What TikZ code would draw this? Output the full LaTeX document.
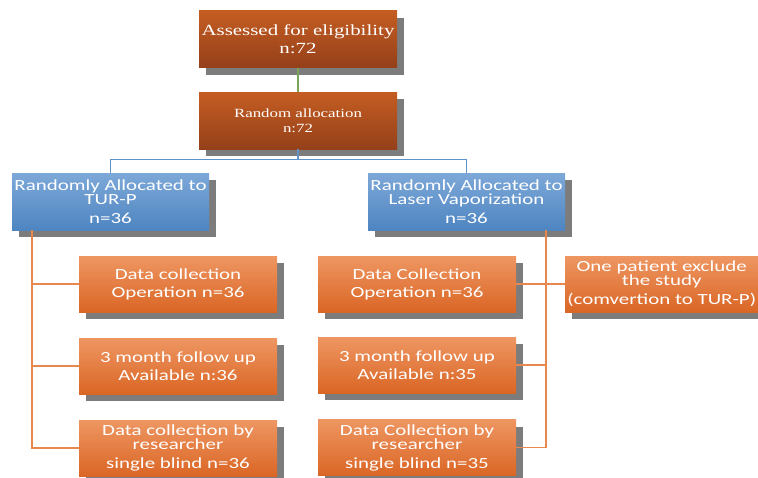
\documentclass[tikz,border=0pt]{standalone}
\usepackage{fontspec}
\setmainfont{Liberation Serif}[FakeStretch=1.35]
\newfontfamily\calib{Carlito}[FakeStretch=1.35]
\usetikzlibrary{shadows}

\definecolor{browntop}{HTML}{C55D22}
\definecolor{brownbot}{HTML}{94401A}
\definecolor{bluetop}{HTML}{7DA8D8}
\definecolor{bluebot}{HTML}{4E85C1}
\definecolor{orangetop}{HTML}{EE9662}
\definecolor{orangebot}{HTML}{DA6625}
\definecolor{blueline}{HTML}{5E92C9}
\definecolor{orangeline}{HTML}{E8884E}
\definecolor{greenline}{HTML}{7BA556}

\tikzset{
	box/.style={rectangle, text=white, align=center, inner sep=1pt,
		drop shadow={shadow xshift=7pt, shadow yshift=-7pt, fill=black!60, opacity=0.85}},
	topbox/.style={box, top color=browntop, bottom color=brownbot,
		minimum width=198pt, minimum height=57pt},
	armbox/.style={box, top color=bluetop, bottom color=bluebot, font=\calib\fontsize{15.5}{14}\selectfont,
		minimum width=197pt, minimum height=57pt},
	stepbox/.style={box, top color=orangetop, bottom color=orangebot, font=\calib\fontsize{15.5}{14}\selectfont,
		minimum width=198pt, minimum height=56pt},
	link/.style={line width=1.3pt}
}

\begin{document}
\begin{tikzpicture}[x=1pt, y=-1pt]
	\clip (0,0) rectangle (758,477);
	\fill[white] (0,0) rectangle (758,477);

	\node[topbox, font=\fontsize{15.5}{18}\selectfont] (assess) at (298,39) {Assessed for eligibility\\n:72};
	\node[topbox, font=\fontsize{12.5}{15}\selectfont] (random) at (298,120.5) {Random allocation\\n:72};

	\node[armbox] (tur) at (110.5,201.5) {Randomly Allocated to\\TUR-P\\[5pt]n=36};
	\node[armbox] (laser) at (466.5,201.5) {Randomly Allocated to\\Laser Vaporization\\[5pt]n=36};

	\node[stepbox] (tA) at (178,284) {Data collection\\[4pt]Operation n=36};
	\node[stepbox] (tB) at (178,366) {3 month follow up\\[4pt]Available n:36};
	\node[stepbox] (tC) at (178,448) {Data collection by\\researcher\\[5pt]single blind n=36};

	\node[stepbox] (lA) at (417,284) {Data Collection\\[4pt]Operation n=36};
	\node[stepbox] (lB) at (417,365) {3 month follow up\\[4pt]Available n:35};
	\node[stepbox] (lC) at (417,447.5) {Data Collection by\\researcher\\[5pt]single blind n=35};

	\node[stepbox, minimum width=193pt, anchor=west] (excl) at (565,284) {One patient exclude\\the study\\[5pt](comvertion to TUR-P)};

	\coordinate (tl) at (32,230);
	\coordinate (tr) at (546,230);

	\draw[link, greenline] (assess) -- (random);
	\draw[link, blueline] (random.south) -- ++(0,10.5) -| (tur.north);
	\draw[link, blueline] (random.south) -- ++(0,10.5) -| (laser.north);

	\draw[link, orangeline] (tl) |- (tA.west);
	\draw[link, orangeline] (tl) |- (tB.west);
	\draw[link, orangeline] (tl) |- (tC.west);
	\draw[link, orangeline] (tr) |- (lA.east);
	\draw[link, orangeline] (tr) |- (lB.east);
	\draw[link, orangeline] (tr) |- (lC.east);
	\draw[link, orangeline] (lA.east) -- (excl.west);
\end{tikzpicture}
\end{document}
